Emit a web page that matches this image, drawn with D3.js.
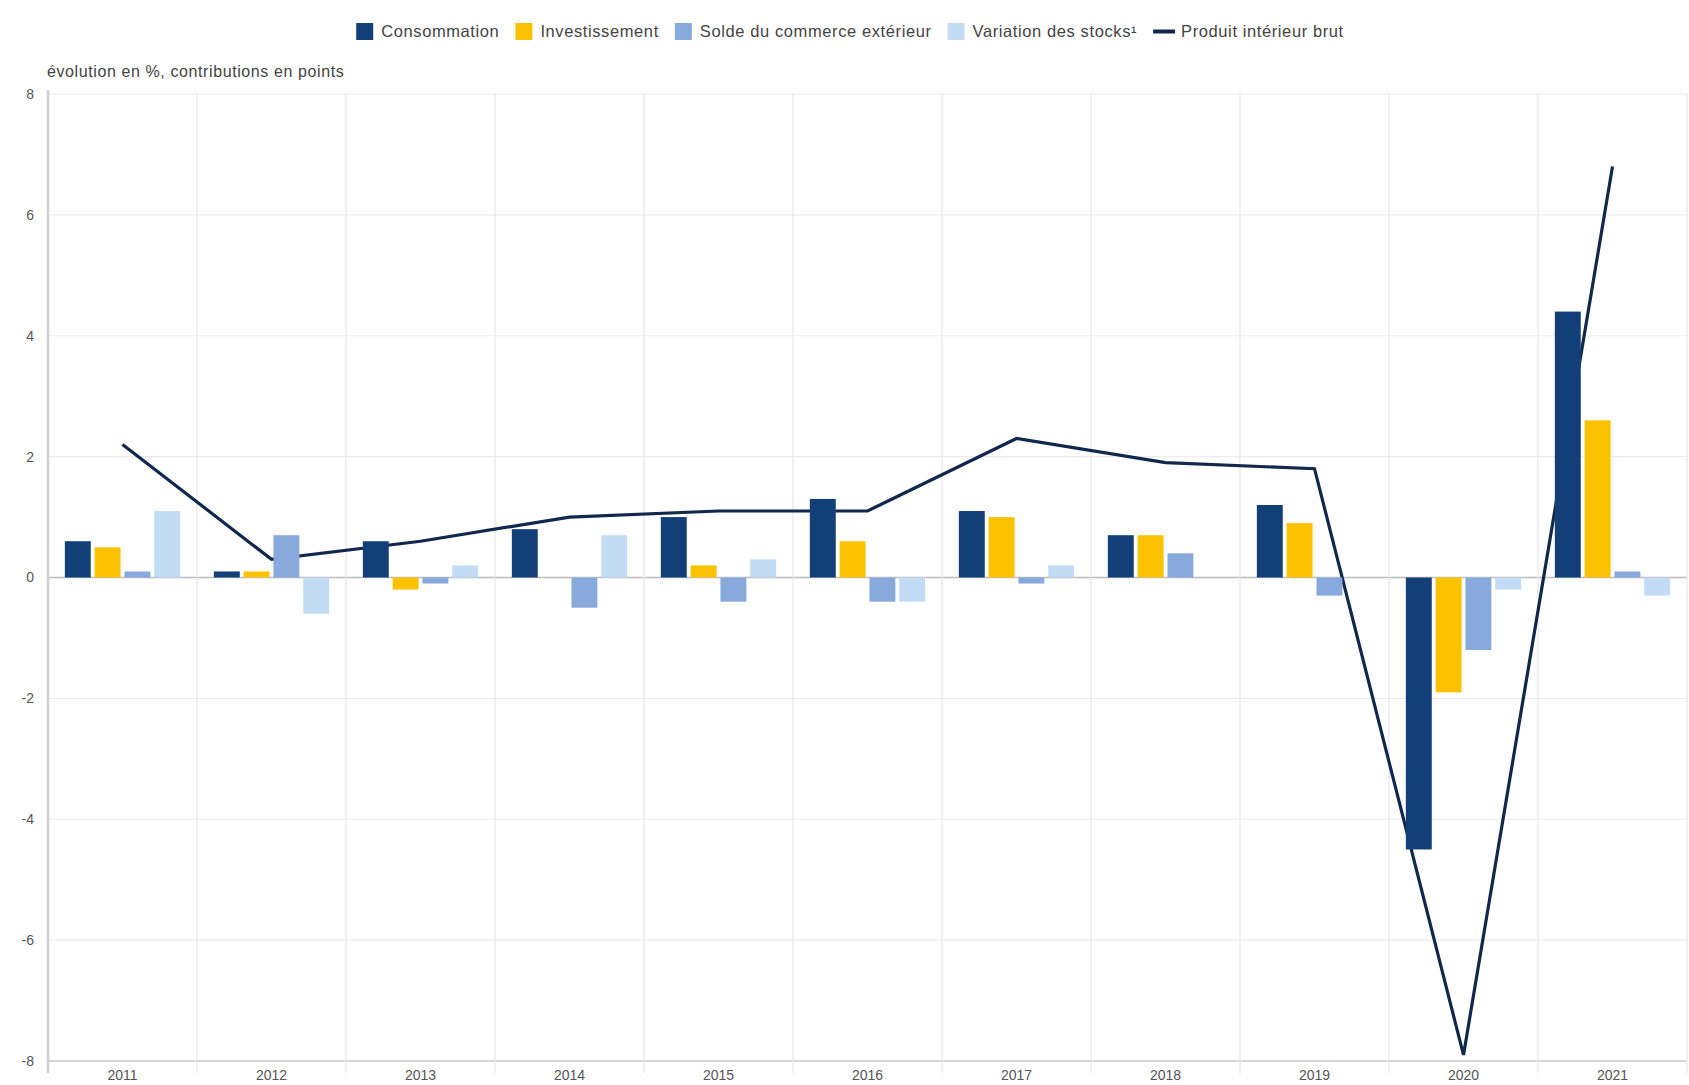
<!DOCTYPE html>
<html><head><meta charset="utf-8">
<script src="https://cdn.jsdelivr.net/npm/d3@7"></script>
<style>
html,body{margin:0;padding:0;background:#fff;overflow:hidden}
text{font-family:"Liberation Sans",Arial,sans-serif}
</style></head>
<body><svg id="c" width="1689" height="1085"></svg>
<script>
const years = ["2011","2012","2013","2014","2015","2016","2017","2018","2019","2020","2021"];
const seriesNames = ["Consommation","Investissement","Solde du commerce extérieur","Variation des stocks¹"];
const consommation = [0.6, 0.1, 0.6, 0.8, 1.0, 1.3, 1.1, 0.7, 1.2, -4.5, 4.4];
const investissement = [0.5, 0.1, -0.2, 0.0, 0.2, 0.6, 1.0, 0.7, 0.9, -1.9, 2.6];
const solde = [0.1, 0.7, -0.1, -0.5, -0.4, -0.4, -0.1, 0.4, -0.3, -1.2, 0.1];
const stocks = [1.1, -0.6, 0.2, 0.7, 0.3, -0.4, 0.2, 0.0, 0.0, -0.2, -0.3];
const pib = [2.2, 0.3, 0.6, 1.0, 1.1, 1.1, 2.3, 1.9, 1.8, -7.9, 6.8];
const lineName = "Produit intérieur brut";
const yTicks = [-8, -6, -4, -2, 0, 2, 4, 6, 8];
const yTitle = "évolution en %, contributions en points";

(function () {
const colors = ["#133f78", "#fcc200", "#87a9dc", "#c2dcf6"];
const lineColor = "#11284c";
const seriesValues = [consommation, investissement, solde, stocks];

const svg = d3.select("#c");
const pLeft = 48, pRight = 1687, pTop = 94, pBottom = 1061;

const x0 = d3.scaleBand().domain(years).range([pLeft, pRight]).paddingInner(0).paddingOuter(0);
const x1 = d3.scaleBand().domain(seriesNames).range([0, x0.bandwidth()]).paddingInner(0.13).paddingOuter(0.565);
const y = d3.scaleLinear().domain([-8, 8]).range([pBottom, pTop]);

// horizontal grid
svg.append("g").selectAll("line").data(yTicks).join("line")
  .attr("x1", pLeft).attr("x2", pRight)
  .attr("y1", d => y(d)).attr("y2", d => y(d))
  .attr("stroke", d => d === 0 ? "#bdbdbd" : (d === -8 ? "#d6d6d6" : "#ececec"))
  .attr("stroke-width", d => d === 0 ? 1.5 : (d === -8 ? 2 : 1.2));

// vertical grid at category boundaries
const bounds = years.slice(1).map(yr => x0(yr)).concat([pRight]);
svg.append("g").selectAll("line").data(bounds).join("line")
  .attr("x1", d => d).attr("x2", d => d)
  .attr("y1", pTop).attr("y2", pBottom + 12)
  .attr("stroke", "#e6e6e6").attr("stroke-width", 1.2);

// y axis
const yAxis = d3.axisLeft(y).tickValues(yTicks).tickSize(0).tickPadding(14).tickFormat(d => String(d));
const ya = svg.append("g").attr("transform", `translate(${pLeft},0)`).call(yAxis);
ya.select(".domain").remove();
ya.selectAll("text").attr("fill", "#555").attr("font-size", 14).attr("font-family", "Liberation Sans, Arial, sans-serif");
svg.append("line").attr("x1", pLeft).attr("x2", pLeft).attr("y1", pTop - 4).attr("y2", pBottom + 12)
  .attr("stroke", "#cfcfcf").attr("stroke-width", 2.5);

// x axis labels
const xAxis = d3.axisBottom(x0).tickSize(0).tickPadding(9);
const xa = svg.append("g").attr("transform", `translate(0,${pBottom})`).call(xAxis);
xa.select(".domain").remove();
xa.selectAll("text").attr("fill", "#555").attr("font-size", 14).attr("font-family", "Liberation Sans, Arial, sans-serif");

// y title
svg.append("text").attr("x", pLeft - 1).attr("y", 77).attr("font-size", 16).attr("fill", "#444")
  .attr("letter-spacing", 0.6).text(yTitle);

// line (drawn under bars)
const line = d3.line().x((d, i) => x0(years[i]) + x0.bandwidth() / 2).y(d => y(d));
svg.append("path").datum(pib).attr("d", line).attr("fill", "none")
  .attr("stroke", lineColor).attr("stroke-width", 3.2).attr("stroke-linejoin", "miter");

// bars
const groups = svg.append("g").selectAll("g").data(years).join("g")
  .attr("transform", d => `translate(${x0(d)},0)`);
groups.selectAll("rect").data((yr, i) => seriesNames.map((s, k) => ({s, k, v: seriesValues[k][i]})))
  .join("rect")
  .attr("x", d => x1(d.s)).attr("width", x1.bandwidth())
  .attr("y", d => y(Math.max(0, d.v))).attr("height", d => Math.abs(y(d.v) - y(0)))
  .attr("fill", d => colors[d.k]);

// legend
const legendItems = seriesNames.map((n, k) => ({name: n, color: colors[k], type: "rect"}))
  .concat([{name: lineName, color: lineColor, type: "line"}]);
const lg = svg.append("g");
let lx = 0;
const itemsG = lg.selectAll("g").data(legendItems).join("g");
itemsG.each(function(d) {
  const g = d3.select(this);
  if (d.type === "rect") {
    g.append("rect").attr("x", 0).attr("y", -8).attr("width", 17).attr("height", 17).attr("fill", d.color);
  } else {
    g.append("line").attr("x1", 0).attr("x2", 22).attr("y1", 0.5).attr("y2", 0.5).attr("stroke", d.color).attr("stroke-width", 4);
  }
  const t = g.append("text").attr("x", d.type === "rect" ? 25 : 28).attr("y", 5.5)
    .attr("font-size", 16.5).attr("fill", "#444").attr("letter-spacing", 0.6).text(d.name);
  const w = (d.type === "rect" ? 25 : 28) + t.node().getComputedTextLength() + 16;
  g.attr("transform", `translate(${lx},0)`);
  lx += w;
});
const totalW = lx - 16;
lg.attr("transform", `translate(${(362 + 1338) / 2 - totalW / 2},31)`);
})();
</script></body></html>
